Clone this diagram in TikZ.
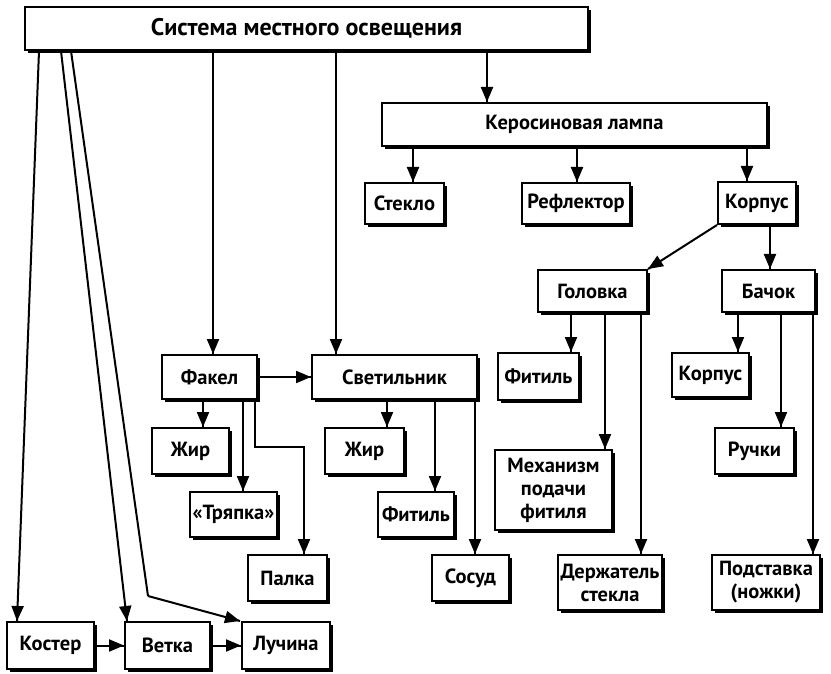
\documentclass[tikz,border=0pt]{standalone}
\usepackage{fontspec}
\setmainfont{PT Sans}
\usepackage{tikz}
\usetikzlibrary{decorations.markings,arrows.meta,shadows}
\tikzstyle{blk}=[draw, line width=2pt, fill=white, inner sep=1pt, align=center,
    font=\bfseries\fontsize{20.5}{23}\selectfont,
    drop shadow={shadow xshift=3pt, shadow yshift=-3pt, fill=black, opacity=1}]
\providecommand{\blk}{\node[blk]}

\begin{document}
\begin{tikzpicture}[x=1pt, y=-1pt,
    every edge/.style={
        draw, line width=2pt,
        postaction={decorate,
                    decoration={markings,mark=at position 1 with {\arrow{Triangle[length=15pt,width=12pt]}}}
                   }
        }
]
\useasboundingbox (0,0) rectangle (831,674);
\blk (title) at (306.5,28.5) [minimum width=563pt, minimum height=43pt] {\fontsize{24}{26}\selectfont Система местного освещения};
\blk (ker) at (574.5,124.5) [minimum width=385pt, minimum height=43pt] {Керосиновая лампа};
\blk (steklo) at (404.5,203.5) [minimum width=79pt, minimum height=41pt] {Стекло};
\blk (refl) at (576,203.5) [minimum width=108pt, minimum height=41pt] {Рефлектор};
\blk (korp) at (757,203) [minimum width=78pt, minimum height=42pt] {Корпус};
\blk (golov) at (592.5,291) [minimum width=109pt, minimum height=42pt] {Головка};
\blk (bachok) at (768.5,291) [minimum width=93pt, minimum height=42pt] {Бачок};
\blk (fitilG) at (538.5,376.5) [minimum width=81pt, minimum height=47pt] {Фитиль};
\blk (mech) at (553.5,490) [minimum width=117pt, minimum height=80pt] {Механизм\\подачи\\фитиля};
\blk (derzh) at (610,582.5) [minimum width=104pt, minimum height=55pt] {Держатель\\стекла};
\blk (korpB) at (710.5,375) [minimum width=77pt, minimum height=44pt] {Корпус};
\blk (ruchki) at (754.5,451) [minimum width=79pt, minimum height=46pt] {Ручки};
\blk (podst) at (766,582.5) [minimum width=108pt, minimum height=55pt] {Подставка\\(ножки)};
\blk (fakel) at (209.5,377) [minimum width=95pt, minimum height=44pt] {Факел};
\blk (svet) at (394.5,377) [minimum width=165pt, minimum height=44pt] {Светильник};
\blk (zhirF) at (190.5,451) [minimum width=77pt, minimum height=46pt] {Жир};
\blk (tryapka) at (233.5,514.5) [minimum width=87pt, minimum height=45pt] {«Тряпка»};
\blk (palka) at (287.5,578) [minimum width=79pt, minimum height=46pt] {Палка};
\blk (zhirS) at (364.5,451) [minimum width=79pt, minimum height=46pt] {Жир};
\blk (fitilS) at (416,514.5) [minimum width=76pt, minimum height=45pt] {Фитиль};
\blk (sosud) at (470.5,578) [minimum width=77pt, minimum height=46pt] {Сосуд};
\blk (koster) at (50.5,645.5) [minimum width=87pt, minimum height=47pt] {Костер};
\blk (vetka) at (167.5,645.5) [minimum width=85pt, minimum height=47pt] {Ветка};
\blk (luchina) at (286,645.5) [minimum width=88pt, minimum height=47pt] {Лучина};
\coordinate (bend) at (148,596);
\coordinate (turn) at (255,447);
\path
([xshift=15pt]title.south west) edge ([xshift=11pt]koster.north west)
([xshift=37pt]title.south west) edge ([xshift=3pt]vetka.north west)
([xshift=3.5pt]fakel.north |- title.south) edge ([xshift=3.5pt]fakel.north)
([xshift=25pt]svet.north west |- title.south) edge ([xshift=25pt]svet.north west)
([xshift=106pt]ker.north west |- title.south) edge ([xshift=106pt]ker.north west)
([xshift=8.5pt]steklo.north |- ker.south) edge ([xshift=8.5pt]steklo.north)
([xshift=1pt]refl.north |- ker.south) edge ([xshift=1pt]refl.north)
([xshift=-10pt]korp.north |- ker.south) edge ([xshift=-10pt]korp.north)
(korp.south west) edge (golov.north east)
([xshift=1.5pt]bachok.north |- korp.south) edge ([xshift=1.5pt]bachok.north)
([xshift=-9pt]fitilG.north east |- golov.south) edge ([xshift=-9pt]fitilG.north east)
([xshift=-8pt]mech.north east |- golov.south) edge ([xshift=-8pt]mech.north east)
([xshift=31pt]derzh.north |- golov.south) edge ([xshift=31pt]derzh.north)
([xshift=-12pt]korpB.north east |- bachok.south) edge ([xshift=-12pt]korpB.north east)
([xshift=-14pt]ruchki.north east |- bachok.south) edge ([xshift=-14pt]ruchki.north east)
([xshift=-8pt]podst.north east |- bachok.south) edge ([xshift=-8pt]podst.north east)
(fakel) edge (svet)
([xshift=12.5pt]zhirF.north |- fakel.south) edge ([xshift=12.5pt]zhirF.north)
([xshift=9.5pt]tryapka.north |- fakel.south) edge ([xshift=9.5pt]tryapka.north)
([xshift=22.5pt]zhirS.north |- svet.south) edge ([xshift=22.5pt]zhirS.north)
([xshift=19pt]fitilS.north |- svet.south) edge ([xshift=19pt]fitilS.north)
([xshift=4.5pt]sosud.north |- svet.south) edge ([xshift=4.5pt]sosud.north)
(koster) edge (vetka)
(vetka) edge (luchina)
;
\draw[line width=2pt] ([xshift=47pt]title.south west) -- (bend);
\path (bend) edge ([xshift=-1pt]luchina.north west);
\draw[line width=2pt] (turn |- fakel.south) -- (turn) -| ([xshift=16.5pt]palka.north);
\path ([xshift=16.5pt]palka.north |- turn) edge ([xshift=16.5pt]palka.north);
\end{tikzpicture}
\end{document}
